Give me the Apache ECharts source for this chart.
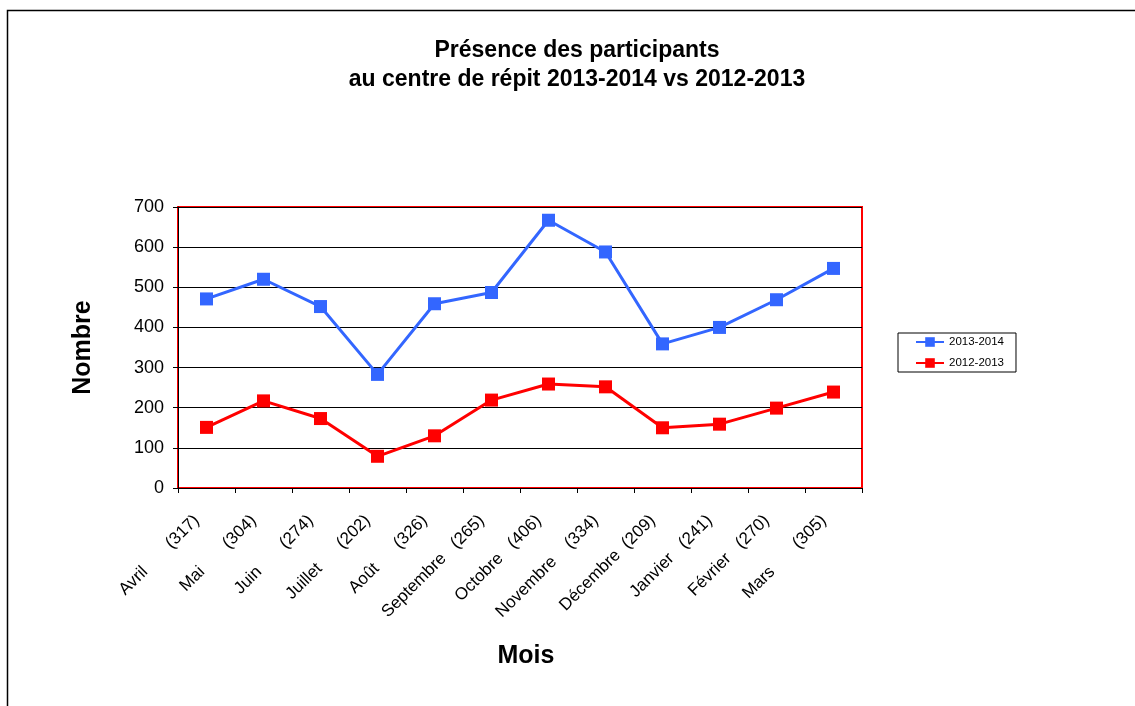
<!DOCTYPE html>
<html>
<head>
<meta charset="utf-8">
<script src="https://cdn.jsdelivr.net/npm/echarts@6/dist/echarts.min.js"></script>
<style>
html,body{margin:0;padding:0;background:#fff;}
#chart{width:1135px;height:706px;}
</style>
</head>
<body>
<div id="chart"></div>
<script>
var categories = [
  'Avril       (317)', 'Mai       (304)', 'Juin       (274)', 'Juillet      (202)',
  'Août      (326)', 'Septembre   (265)', 'Octobre   (406)', 'Novembre    (334)',
  'Décembre  (209)', 'Janvier   (241)', 'Février   (270)', 'Mars       (305)'
];
var series2013_2014 = [471, 520, 452, 283, 459, 487, 667, 588, 359, 400, 469, 547];
var series2012_2013 = [151, 217, 173, 79, 130, 219, 259, 252, 150, 159, 199, 239];
var yTicks = { min: 0, max: 700, interval: 100 };

var FONT = '"Liberation Sans", Arial, sans-serif';
var chart = echarts.init(document.getElementById('chart'), null, { renderer: 'canvas' });
chart.setOption({
  animation: false,
  backgroundColor: '#fff',
  textStyle: { fontFamily: FONT },
  graphic: [{
    type: 'rect', z: -10, silent: true,
    shape: { x: 7.5, y: 10.5, width: 1200, height: 800 },
    style: { fill: 'none', stroke: '#000', lineWidth: 1.5 }
  }],
  title: {
    text: 'Présence des participants\nau centre de répit 2013-2014 vs 2012-2013',
    left: 572, top: 31, textAlign: 'center',
    textStyle: { fontFamily: FONT, fontSize: 23, fontWeight: 'bold', color: '#000', lineHeight: 29 }
  },
  legend: {
    orient: 'vertical', left: 898, top: 333,
    borderColor: '#000', borderWidth: 1,
    padding: [3, 12, 3, 17], itemGap: 9,
    itemWidth: 28, itemHeight: 12,
    textStyle: { fontFamily: FONT, fontSize: 11.5, color: '#000' },
    data: ['2013-2014', '2012-2013']
  },
  grid: {
    left: 178, top: 207, width: 684, height: 281,
    show: true, borderColor: '#ff0000', borderWidth: 2, containLabel: false
  },
  xAxis: {
    type: 'category', data: categories, boundaryGap: true,
    name: 'Mois', nameLocation: 'middle', nameGap: 156,
    nameTextStyle: { fontFamily: FONT, fontSize: 25, fontWeight: 'bold', color: '#000', padding: [0, 0, 0, 12] },
    axisLine: { lineStyle: { color: '#000', width: 1 } },
    axisTick: { show: true, length: 5, lineStyle: { color: '#000' } },
    axisLabel: { rotate: 45, margin: 20, padding: [0, 14, 0, 0], fontFamily: FONT, fontSize: 17, color: '#000', interval: 0 },
    splitLine: { show: false }
  },
  yAxis: {
    type: 'value', min: yTicks.min, max: yTicks.max, interval: yTicks.interval,
    name: 'Nombre', nameLocation: 'middle', nameGap: 82, nameRotate: 90,
    nameTextStyle: { fontFamily: FONT, fontSize: 25, fontWeight: 'bold', color: '#000' },
    axisLine: { show: true, lineStyle: { color: '#000', width: 1 } },
    axisTick: { show: true, length: 5, lineStyle: { color: '#000' } },
    axisLabel: { margin: 14, fontFamily: FONT, fontSize: 18, color: '#000' },
    splitLine: { show: true, lineStyle: { color: '#000', width: 1 } }
  },
  series: [{
    name: '2013-2014', type: 'line', data: series2013_2014,
    symbol: 'rect', symbolSize: 13, showAllSymbol: true,
    itemStyle: { color: '#3366ff' }, lineStyle: { color: '#3366ff', width: 3 }
  }, {
    name: '2012-2013', type: 'line', data: series2012_2013,
    symbol: 'rect', symbolSize: 13, showAllSymbol: true,
    itemStyle: { color: '#ff0000' }, lineStyle: { color: '#ff0000', width: 3 }
  }]
});
</script>
</body>
</html>
